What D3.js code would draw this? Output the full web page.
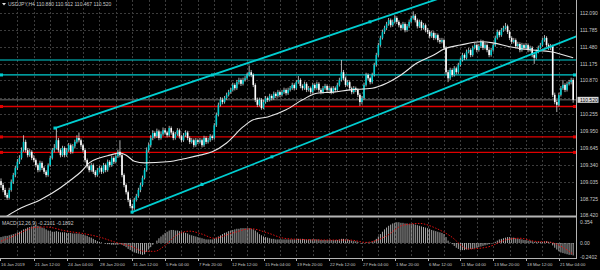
<!DOCTYPE html>
<html>
<head>
<meta charset="utf-8">
<script src="https://cdn.jsdelivr.net/npm/d3@7"></script>
<style>
  html, body { margin: 0; padding: 0; background: #000; }
  svg { display: block; }
  text { font-family: "Liberation Sans", Arial, sans-serif; fill: #c8c8c8; }
</style>
</head>
<body>
<svg id="chart" width="600" height="270"></svg>
<script>
// USDJPY H4, 16 Jan 2019 20:00 .. 22 Mar 2019 08:00 (280 bars)
const firstOpen = 109.05;
const closes = [
  108.98,108.89,108.80,108.75,108.89,109.04,109.16,109.29,109.40,109.47,109.61,109.76,109.61,109.52,109.58,109.47,
  109.43,109.34,109.25,109.38,109.29,109.22,109.16,109.34,109.47,109.61,109.65,109.79,109.61,109.52,109.65,109.52,
  109.61,109.70,109.58,109.68,109.76,109.83,109.79,109.70,109.61,109.43,109.32,109.25,109.34,109.22,109.16,109.25,
  109.29,109.22,109.34,109.25,109.40,109.34,109.47,109.40,109.50,109.58,109.52,109.16,108.98,108.85,108.71,108.60,
  108.56,108.71,108.78,108.89,108.98,109.11,109.25,109.61,109.70,109.83,109.92,109.86,109.95,109.83,109.90,109.97,
  109.93,109.88,110.01,109.93,109.83,109.90,109.97,109.86,109.79,109.88,109.93,109.83,109.76,109.79,109.70,109.79,
  109.76,109.79,109.70,109.83,109.76,109.79,109.86,109.83,110.06,110.25,110.43,110.52,110.48,110.55,110.61,110.66,
  110.70,110.79,110.73,110.84,110.88,110.81,110.88,110.91,110.97,111.02,110.97,110.79,110.52,110.43,110.52,110.37,
  110.48,110.55,110.52,110.59,110.55,110.63,110.59,110.66,110.61,110.66,110.70,110.64,110.70,110.73,110.79,110.73,
  110.84,110.88,110.77,110.73,110.81,110.70,110.73,110.66,110.79,110.73,110.81,110.70,110.66,110.73,110.77,110.70,
  110.73,110.66,110.73,110.70,110.79,110.88,111.02,110.91,110.79,110.84,110.73,110.66,110.73,110.70,110.61,110.48,
  110.55,110.79,110.97,110.91,110.84,110.97,111.15,111.33,111.51,111.64,111.75,111.82,111.89,111.96,111.87,111.93,
  112.00,111.93,111.87,111.82,111.89,111.78,111.85,111.93,112.00,112.04,111.96,111.85,111.93,111.82,111.87,111.78,
  111.75,111.67,111.73,111.64,111.69,111.60,111.57,111.60,111.46,111.02,110.91,111.06,110.97,111.09,111.02,111.15,
  111.24,111.33,111.28,111.39,111.42,111.33,111.46,111.51,111.42,111.49,111.57,111.46,111.51,111.42,111.33,111.42,
  111.51,111.64,111.75,111.69,111.78,111.82,111.85,111.75,111.64,111.57,111.60,111.49,111.53,111.42,111.51,111.46,
  111.51,111.42,111.46,111.33,111.28,111.39,111.46,111.51,111.60,111.64,111.51,111.46,111.49,110.61,110.48,110.43,
  110.61,110.73,110.79,110.70,110.81,110.84,110.88,110.52
];
const highs = [
  109.10,109.02,108.93,108.84,108.93,109.08,109.20,109.33,109.45,109.52,109.66,109.88,109.80,109.65,109.63,109.61,
  109.52,109.46,109.37,109.42,109.41,109.32,109.25,109.37,109.51,109.65,109.72,110.01,109.83,109.64,109.69,109.68,
  109.65,109.74,109.73,109.72,109.80,109.88,109.93,109.82,109.73,109.64,109.46,109.35,109.38,109.37,109.25,109.29,
  109.33,109.32,109.38,109.37,109.44,109.43,109.51,109.50,109.54,109.62,109.79,109.56,109.19,109.01,108.88,108.74,
  108.64,108.75,108.82,108.93,109.02,109.15,109.29,109.66,109.75,109.88,109.97,109.95,110.00,109.98,109.94,110.02,
  110.01,109.96,110.05,110.04,109.96,109.94,110.01,110.00,109.89,109.92,109.97,109.96,109.86,109.83,109.82,109.83,
  109.82,109.83,109.82,109.87,109.86,109.83,109.90,109.89,110.10,110.29,110.47,110.57,110.56,110.59,110.65,110.70,
  110.74,110.83,110.82,110.88,110.92,110.91,110.92,110.95,111.01,111.14,111.06,111.00,110.82,110.56,110.56,110.55,
  110.52,110.59,110.58,110.63,110.62,110.67,110.66,110.70,110.69,110.70,110.74,110.73,110.74,110.77,110.83,110.82,
  110.88,110.95,110.91,110.80,110.85,110.84,110.77,110.76,110.83,110.82,110.85,110.84,110.73,110.77,110.81,110.80,
  110.77,110.76,110.77,110.76,110.83,110.92,111.24,111.06,110.94,110.88,110.87,110.76,110.77,110.76,110.73,110.64,
  110.59,110.83,111.01,111.00,110.94,111.01,111.19,111.37,111.55,111.68,111.79,111.86,111.93,112.00,111.99,111.97,
  112.05,112.03,111.96,111.90,111.93,111.92,111.89,111.97,112.04,112.12,112.07,111.99,111.97,111.96,111.91,111.90,
  111.82,111.78,111.77,111.76,111.73,111.72,111.64,111.64,111.63,111.49,111.06,111.10,111.09,111.13,111.12,111.19,
  111.28,111.37,111.36,111.43,111.46,111.45,111.50,111.55,111.54,111.53,111.61,111.60,111.55,111.54,111.45,111.46,
  111.55,111.68,111.79,111.78,111.82,111.86,111.91,111.88,111.78,111.67,111.64,111.63,111.57,111.56,111.55,111.54,
  111.55,111.54,111.50,111.49,111.36,111.43,111.50,111.55,111.64,111.69,111.67,111.54,111.53,111.52,110.65,110.52,
  110.65,110.77,110.88,110.82,110.85,110.88,110.92,110.912
];
const lows = [
  108.93,108.85,108.76,108.71,108.73,108.86,109.00,109.12,109.25,109.36,109.44,109.58,109.57,109.48,109.49,109.43,
  109.39,109.30,109.21,109.22,109.25,109.18,109.12,109.13,109.31,109.44,109.57,109.62,109.57,109.48,109.49,109.48,
  109.49,109.58,109.54,109.55,109.64,109.73,109.75,109.66,109.57,109.39,109.28,109.21,109.22,109.18,109.12,109.13,
  109.21,109.18,109.19,109.21,109.22,109.30,109.31,109.36,109.37,109.47,109.48,109.12,108.94,108.81,108.67,108.56,
  108.49,108.53,108.68,108.75,108.85,108.95,109.08,109.22,109.57,109.66,109.79,109.82,109.83,109.79,109.80,109.87,
  109.89,109.84,109.85,109.89,109.79,109.80,109.87,109.82,109.75,109.76,109.85,109.79,109.72,109.73,109.66,109.67,
  109.72,109.73,109.66,109.67,109.72,109.73,109.76,109.79,109.80,110.03,110.22,110.40,110.44,110.45,110.52,110.58,
  110.63,110.67,110.69,110.70,110.80,110.77,110.78,110.85,110.88,110.94,110.93,110.75,110.48,110.39,110.40,110.34,
  110.35,110.45,110.48,110.49,110.51,110.52,110.55,110.56,110.57,110.58,110.63,110.60,110.61,110.67,110.70,110.69,
  110.70,110.81,110.73,110.69,110.70,110.66,110.67,110.62,110.63,110.69,110.70,110.66,110.62,110.63,110.70,110.66,
  110.67,110.62,110.63,110.66,110.67,110.76,110.85,110.87,110.75,110.76,110.69,110.62,110.63,110.66,110.57,110.41,
  110.44,110.52,110.76,110.87,110.80,110.81,110.94,111.12,111.30,111.48,111.61,111.71,111.78,111.86,111.83,111.84,
  111.90,111.89,111.83,111.78,111.79,111.74,111.75,111.82,111.90,111.97,111.92,111.81,111.82,111.78,111.79,111.74,
  111.71,111.63,111.64,111.60,111.61,111.56,111.53,111.54,111.42,110.98,110.84,110.88,110.93,110.94,110.98,110.99,
  111.12,111.21,111.24,111.25,111.36,111.29,111.30,111.43,111.38,111.39,111.46,111.42,111.43,111.38,111.29,111.30,
  111.39,111.48,111.61,111.65,111.66,111.75,111.79,111.71,111.60,111.53,111.54,111.45,111.46,111.38,111.39,111.42,
  111.43,111.38,111.39,111.29,111.17,111.25,111.36,111.43,111.48,111.57,111.47,111.42,111.42,110.57,110.44,110.30,
  110.40,110.58,110.70,110.66,110.67,110.78,110.80,110.467
];

// white moving average, read at sparse bars
const maBars   = [0, 9, 19, 29, 34, 39, 43, 48, 53, 58, 61, 65, 70, 81, 91, 97, 103, 110, 118, 123, 130, 139, 147, 154, 162, 170, 181, 188, 195, 203, 211, 216, 224, 234, 240, 248, 259, 268, 279];
const maValues = [108.35, 108.55, 108.71, 108.93, 109.07, 109.22, 109.38, 109.47, 109.52, 109.56, 109.52, 109.41, 109.38, 109.40, 109.47, 109.52, 109.58, 109.74, 110.03, 110.16, 110.21, 110.34, 110.52, 110.64, 110.66, 110.70, 110.73, 110.82, 110.97, 111.19, 111.33, 111.44, 111.51, 111.57, 111.55, 111.48, 111.42, 111.39, 111.28];

// MACD(12,26,9) main values, one per bar
const macdMain = [
  0.10,0.11,0.12,0.12,0.13,0.14,0.15,0.16,0.18,0.19,0.21,0.23,0.24,0.26,0.27,0.28,
  0.29,0.30,0.29,0.28,0.26,0.25,0.23,0.21,0.20,0.19,0.19,0.20,0.19,0.18,0.18,0.18,
  0.17,0.17,0.17,0.16,0.16,0.16,0.16,0.15,0.14,0.13,0.12,0.10,0.09,0.07,0.05,0.03,
  0.02,0.01,0.00,-0.01,-0.02,-0.02,-0.03,-0.03,-0.03,-0.03,-0.02,-0.03,-0.05,-0.07,-0.10,-0.12,
  -0.14,-0.16,-0.17,-0.18,-0.19,-0.20,-0.19,-0.15,-0.11,-0.07,-0.03,0.00,0.04,0.08,0.11,0.14,
  0.17,0.19,0.21,0.22,0.22,0.21,0.21,0.20,0.19,0.18,0.17,0.16,0.14,0.13,0.12,0.11,
  0.10,0.09,0.08,0.07,0.06,0.06,0.06,0.06,0.07,0.09,0.11,0.13,0.15,0.17,0.18,0.20,
  0.21,0.22,0.23,0.24,0.24,0.25,0.25,0.25,0.25,0.25,0.24,0.23,0.21,0.18,0.15,0.13,
  0.11,0.10,0.09,0.08,0.07,0.07,0.06,0.06,0.06,0.06,0.06,0.06,0.06,0.06,0.06,0.06,
  0.06,0.07,0.07,0.07,0.06,0.06,0.06,0.06,0.06,0.06,0.06,0.06,0.05,0.05,0.05,0.05,
  0.05,0.05,0.05,0.05,0.05,0.06,0.07,0.07,0.06,0.06,0.05,0.04,0.03,0.03,0.02,0.00,
  -0.01,0.00,0.01,0.01,0.01,0.02,0.04,0.07,0.11,0.15,0.19,0.23,0.26,0.29,0.31,0.33,
  0.34,0.35,0.35,0.34,0.34,0.33,0.33,0.32,0.32,0.32,0.31,0.30,0.29,0.28,0.27,0.26,
  0.25,0.24,0.22,0.21,0.20,0.19,0.18,0.17,0.15,0.10,0.04,0.01,-0.02,-0.05,-0.08,-0.10,
  -0.12,-0.12,-0.12,-0.11,-0.11,-0.10,-0.10,-0.09,-0.08,-0.07,-0.06,-0.05,-0.04,-0.03,-0.02,-0.01,
  0.00,0.02,0.04,0.06,0.07,0.08,0.09,0.10,0.10,0.09,0.09,0.08,0.07,0.07,0.06,0.05,
  0.05,0.04,0.04,0.03,0.02,0.02,0.02,0.02,0.02,0.03,0.03,0.02,0.02,-0.04,-0.08,-0.11,
  -0.14,-0.16,-0.17,-0.18,-0.19,-0.20,-0.20,-0.21
];
// MACD signal, read at sparse bars
const signalBars   = [0, 5, 10, 16, 22, 32, 40, 48, 57, 63, 70, 75, 80, 86, 92, 98, 104, 113, 122, 130, 138, 146, 159, 170, 178, 188, 196, 204, 212, 219, 228, 237, 247, 253, 260, 268, 279];
const signalValues = [0.03, 0.10, 0.18, 0.26, 0.27, 0.20, 0.16, 0.10, 0.00, -0.05, -0.14, -0.14, -0.04, 0.14, 0.20, 0.15, 0.08, 0.17, 0.24, 0.17, 0.08, 0.06, 0.05, 0.05, 0.01, 0.12, 0.30, 0.33, 0.25, 0.12, -0.10, -0.07, 0.06, 0.08, 0.03, 0.01, -0.19];

const priceTicks = [112.090, 111.785, 111.480, 111.175, 110.870, 110.560, 110.255, 109.950, 109.645, 109.340, 109.035, 108.725];
const priceLabels = ["112.090", "111.785", "111.480", "111.175", "110.870", "", "110.255", "109.950", "109.645", "109.340", "109.035", "108.725"];
const timeLabels = ["16 Jan 2019", "21 Jan 12:00", "24 Jan 04:00", "28 Jan 20:00", "31 Jan 12:00", "5 Feb 04:00", "7 Feb 20:00", "12 Feb 12:00", "15 Feb 04:00", "19 Feb 20:00", "22 Feb 12:00", "27 Feb 04:00", "1 Mar 20:00", "6 Mar 12:00", "11 Mar 04:00", "13 Mar 20:00", "18 Mar 12:00", "21 Mar 04:00"];
const macdTicks = [0.354, 0.0, -0.2402];
const macdTickLabels = ["0.354", "0.00", "-0.2402"];

const cyanLevels = [111.24, 110.97];
const redLevels = [110.40, 109.85, 109.57];
const bidPrice = 110.52;
// trend rays: [bar, price] anchors
const upperRay = [[26.3, 110.01], [179.9, 111.93]];
const lowerRay = [[63.9, 108.49], [132.1, 109.49]];

const W = 600, H = 270;
const plotRight = 576, mainBottom = 216, subTop = 218, subBottom = 258;
const cyan = "#00ced1", red = "#e00000", gridCol = "#3c3c3c";

const svg = d3.select("#chart");
svg.append("rect").attr("width", W).attr("height", H).attr("fill", "#000");

const x = d3.scaleLinear().domain([0, 279]).range([1, 573.2]);
const y = d3.scaleLinear().domain([108.42, 112.325]).range([mainBottom, 0]);
const ym = d3.scaleLinear().domain([-0.253, 0.4216]).range([subBottom, subTop]);

const defs = svg.append("defs");
defs.append("clipPath").attr("id", "clipMain").append("rect").attr("x", 0).attr("y", 0).attr("width", plotRight).attr("height", mainBottom);
defs.append("clipPath").attr("id", "clipSub").append("rect").attr("x", 0).attr("y", subTop).attr("width", plotRight).attr("height", subBottom - subTop);

// grid
const grid = svg.append("g").attr("stroke", gridCol).attr("stroke-dasharray", "2,2").attr("stroke-width", 1);
d3.range(8, 280, 8).forEach((b) => {
  const gx = Math.round(x(b)) + 0.5;
  grid.append("line").attr("x1", gx).attr("x2", gx).attr("y1", 0).attr("y2", mainBottom);
  grid.append("line").attr("x1", gx).attr("x2", gx).attr("y1", subTop).attr("y2", subBottom);
});
priceTicks.forEach((p) => {
  const gy = Math.round(y(p)) + 0.5;
  grid.append("line").attr("x1", 0).attr("x2", plotRight).attr("y1", gy).attr("y2", gy);
});
grid.append("line").attr("x1", 0).attr("x2", plotRight).attr("y1", Math.round(ym(0)) + 0.5).attr("y2", Math.round(ym(0)) + 0.5);

const main = svg.append("g").attr("clip-path", "url(#clipMain)");

// horizontal levels
main.selectAll("line.cy").data(cyanLevels).join("line")
  .attr("x1", 0).attr("x2", plotRight)
  .attr("y1", (d) => y(d)).attr("y2", (d) => y(d))
  .attr("stroke", cyan).attr("stroke-width", 1.2);
main.selectAll("line.rd").data(redLevels).join("line")
  .attr("x1", 0).attr("x2", plotRight)
  .attr("y1", (d) => y(d)).attr("y2", (d) => y(d))
  .attr("stroke", red).attr("stroke-width", 1.3);
main.append("line").attr("x1", 0).attr("x2", plotRight)
  .attr("y1", y(bidPrice)).attr("y2", y(bidPrice))
  .attr("stroke", "#707070").attr("stroke-width", 1);

// candles
const bars = closes.map((c, i) => ({ i, o: i ? closes[i - 1] : firstOpen, h: highs[i], l: lows[i], c }));
main.append("g").selectAll("line").data(bars).join("line")
  .attr("x1", (d) => x(d.i)).attr("x2", (d) => x(d.i))
  .attr("y1", (d) => y(d.h)).attr("y2", (d) => y(d.l))
  .attr("stroke", "#d8d8d8").attr("stroke-width", 0.8);
main.append("g").selectAll("rect").data(bars).join("rect")
  .attr("x", (d) => x(d.i) - 0.8).attr("width", 1.6)
  .attr("y", (d) => y(Math.max(d.o, d.c)))
  .attr("height", (d) => Math.max(0.8, Math.abs(y(d.o) - y(d.c))))
  .attr("fill", (d) => (d.c >= d.o ? cyan : "#ffffff"));

// moving average
const ma = maBars.map((b, k) => [b, maValues[k]]);
main.append("path").datum(ma)
  .attr("d", d3.line().x((d) => x(d[0])).y((d) => y(d[1])).curve(d3.curveMonotoneX))
  .attr("fill", "none").attr("stroke", "#e8e8e8").attr("stroke-width", 1.1);

// trend rays
function rayEnd(r, toBar) {
  const s = (r[1][1] - r[0][1]) / (r[1][0] - r[0][0]);
  return [toBar, r[0][1] + s * (toBar - r[0][0])];
}
[upperRay, lowerRay].forEach((r) => {
  const e = rayEnd(r, 300);
  main.append("line")
    .attr("x1", x(r[0][0])).attr("y1", y(r[0][1]))
    .attr("x2", x(e[0])).attr("y2", y(e[1]))
    .attr("stroke", cyan).attr("stroke-width", 1.8);
  const mid = [(r[0][0] + r[1][0]) / 2, (r[0][1] + r[1][1]) / 2];
  [r[0], mid, r[1]].forEach((p) => {
    main.append("rect").attr("x", x(p[0]) - 1.5).attr("y", y(p[1]) - 1.5)
      .attr("width", 3).attr("height", 3).attr("fill", cyan);
  });
});

// level markers at both ends
const markers = svg.append("g");
[[cyanLevels[1], cyan], ...redLevels.map((p) => [p, red])].forEach(([p, col]) => {
  [0, plotRight - 3].forEach((mx) => {
    markers.append("rect").attr("x", mx).attr("y", y(p) - 1.5).attr("width", 3).attr("height", 3).attr("fill", col);
  });
});

// MACD window
const sub = svg.append("g").attr("clip-path", "url(#clipSub)");
sub.append("g").selectAll("line").data(macdMain).join("line")
  .attr("x1", (d, i) => x(i)).attr("x2", (d, i) => x(i))
  .attr("y1", ym(0)).attr("y2", (d) => ym(d))
  .attr("stroke", "#bdbdbd").attr("stroke-width", 0.9);
const sig = signalBars.map((b, k) => [b, signalValues[k]]);
sub.append("path").datum(sig)
  .attr("d", d3.line().x((d) => x(d[0])).y((d) => ym(d[1])).curve(d3.curveMonotoneX))
  .attr("fill", "none").attr("stroke", "#e01010").attr("stroke-width", 1)
  .attr("stroke-dasharray", "1.5,1.5");

// frame
const frame = svg.append("g").attr("stroke", "#b4b4b4");
frame.append("line").attr("x1", plotRight + 0.5).attr("x2", plotRight + 0.5).attr("y1", 0).attr("y2", subBottom + 1);
frame.append("rect").attr("x", 0).attr("y", mainBottom - 0.5).attr("width", plotRight + 1).attr("height", 2).attr("fill", "#b4b4b4").attr("stroke", "none");
frame.append("line").attr("x1", 0).attr("x2", plotRight + 1).attr("y1", subBottom + 0.5).attr("y2", subBottom + 0.5);

// price axis
const axis = svg.append("g").attr("font-size", 5);
priceTicks.forEach((p, k) => {
  if (!priceLabels[k]) return;
  axis.append("text").attr("x", 580).attr("y", y(p) + 2).text(priceLabels[k]);
});
axis.append("text").attr("x", 580).attr("y", y(108.42) + 1).text("108.420");
svg.append("rect").attr("x", 577.5).attr("y", y(bidPrice) - 3).attr("width", 21).attr("height", 6).attr("fill", "#d8d8d8");
svg.append("text").attr("x", 580).attr("y", y(bidPrice) + 2).attr("font-size", 5).style("fill", "#000").text("110.520");

macdTicks.forEach((v, k) => {
  axis.append("text").attr("x", 580).attr("y", ym(v) + 2).text(macdTickLabels[k]);
});

// time axis
const tAxis = svg.append("g").attr("font-size", 4.3);
timeLabels.forEach((t, k) => {
  const tx = k === 0 ? 0 : Math.round(x(k * 16));
  tAxis.append("line").attr("x1", tx + 0.5).attr("x2", tx + 0.5).attr("y1", subBottom + 1).attr("y2", subBottom + 3).attr("stroke", "#b4b4b4");
  tAxis.append("text").attr("x", tx + 1).attr("y", 266).text(t);
});

// captions
svg.append("path").attr("d", "M2,3 L6,3 L4,5.5 Z").attr("fill", "#e0e0e0");
svg.append("text").attr("x", 8).attr("y", 6).attr("font-size", 5).text("USDJPY,H4  110.880 110.912 110.467 110.520");
svg.append("text").attr("x", 2).attr("y", 225).attr("font-size", 5).text("MACD(12,26,9) -0.2101 -0.1892");
</script>
</body>
</html>
